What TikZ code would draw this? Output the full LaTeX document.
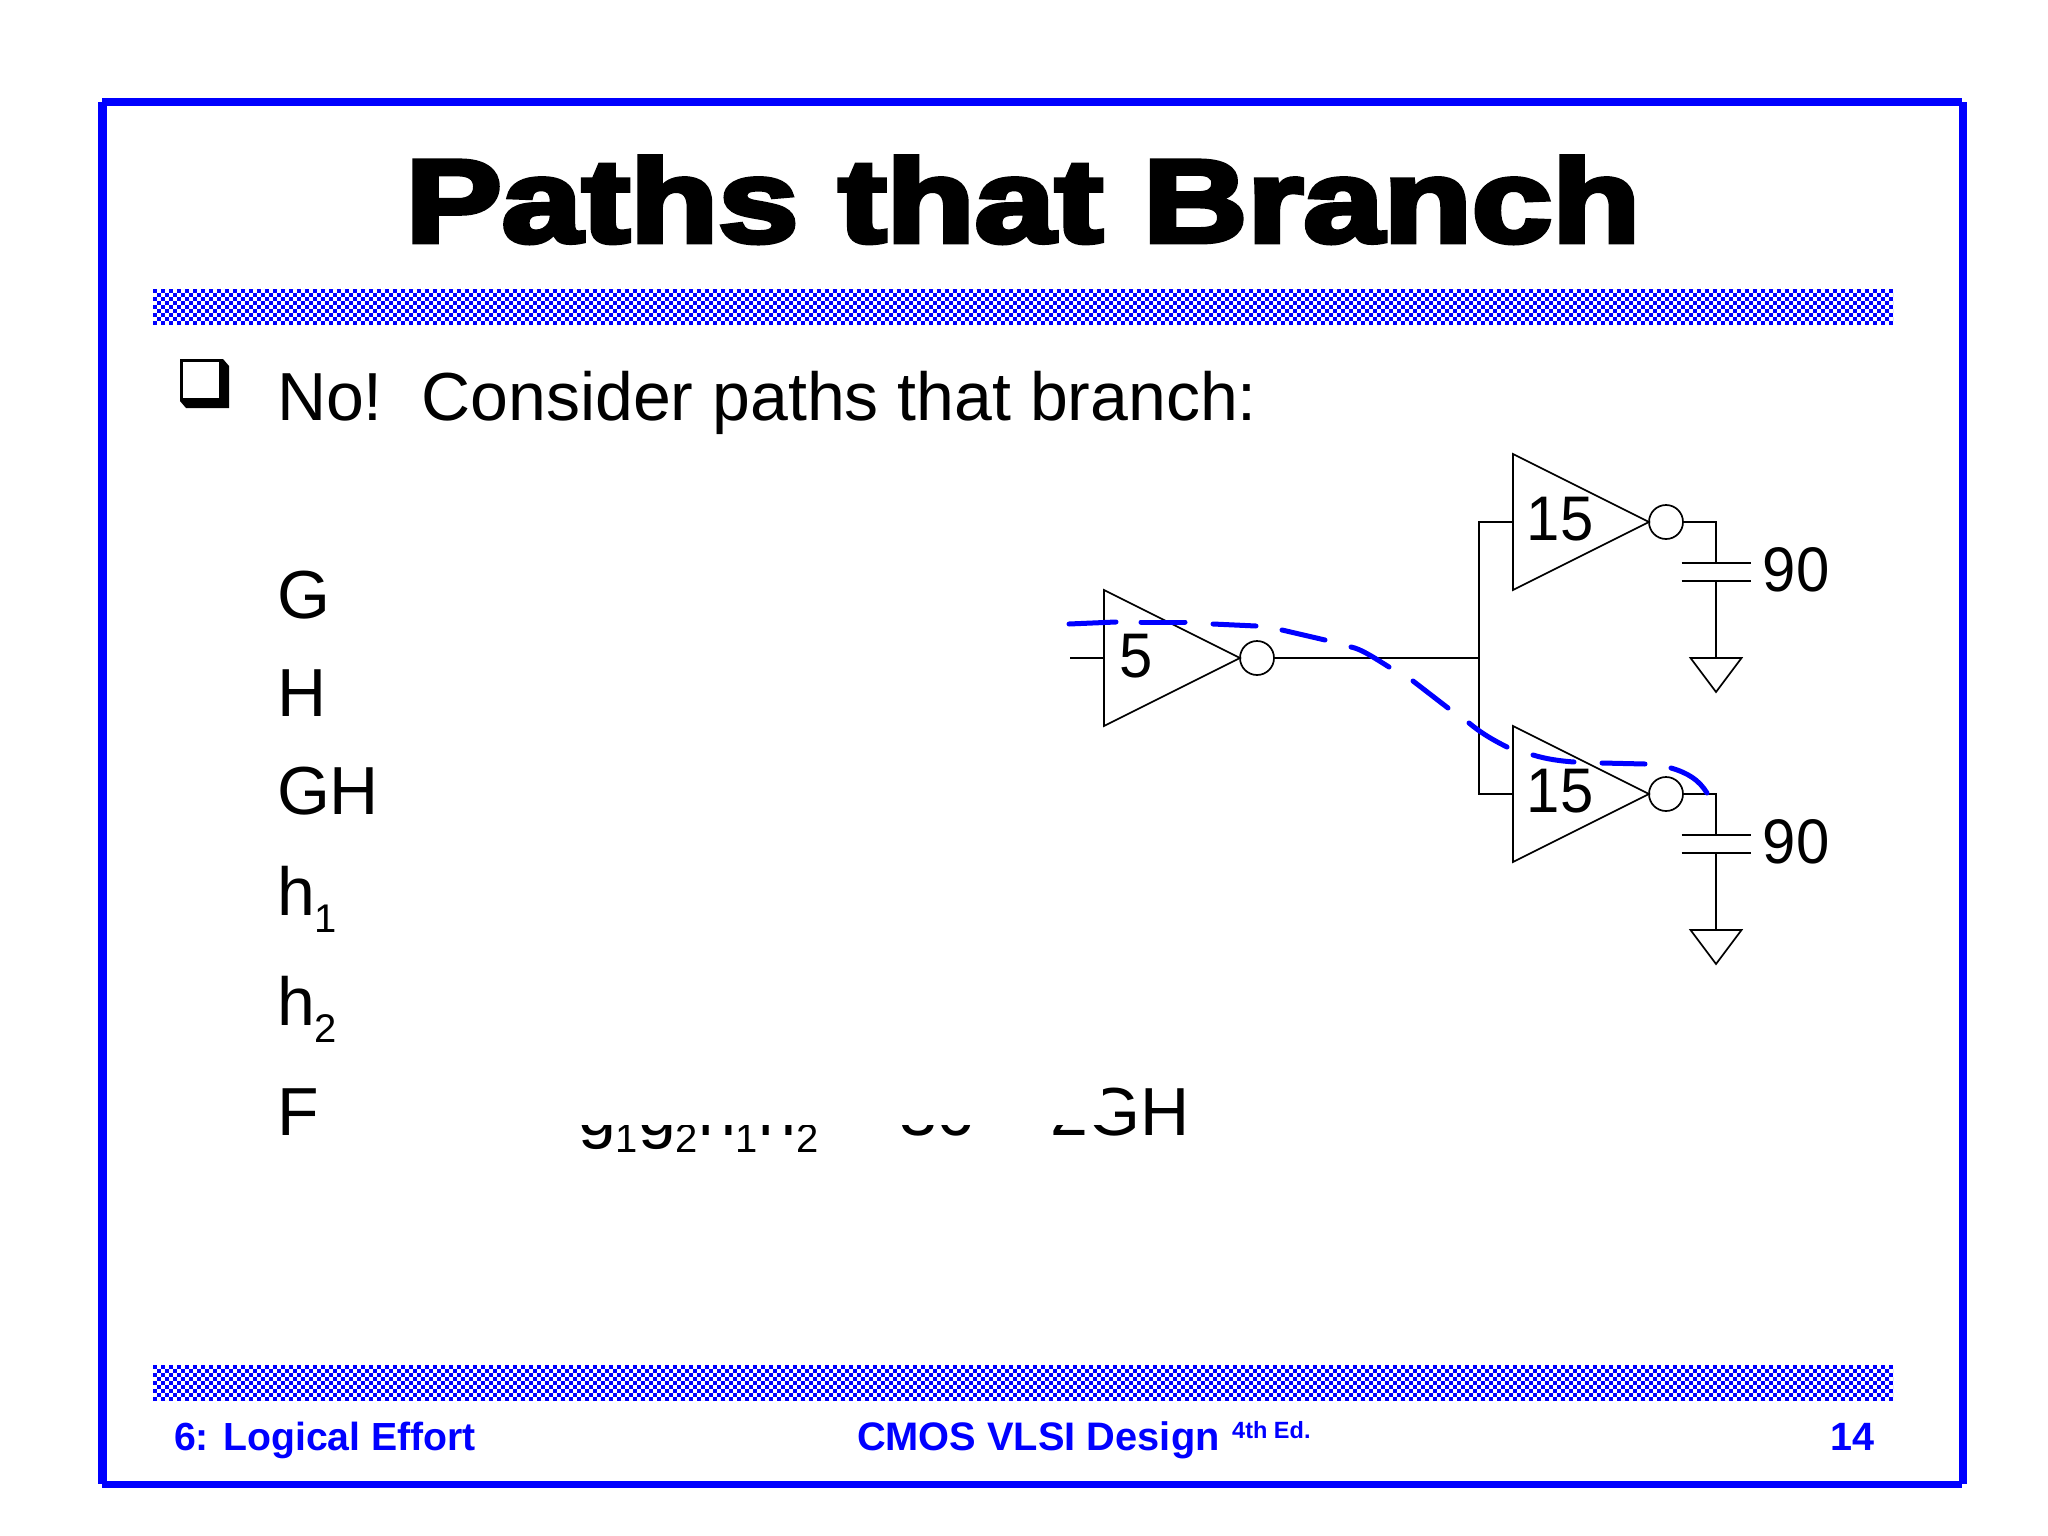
\documentclass[tikz,border=0pt]{standalone}
\usepackage{fontspec}
\setmainfont{Liberation Sans}
\newfontfamily\blackfont[FakeBold=4]{Liberation Sans Bold}
\definecolor{slideblue}{RGB}{0,0,255}
\newcommand{\fsz}[1]{\fontsize{#1}{#1}\selectfont}
\newcommand{\sbs}[1]{\raisebox{-.25em}{\fsz{40}#1}}
\newcommand{\narrow}[1]{\scalebox{.95}[1]{#1}}
\tikzset{
  txt/.style={anchor=base west,inner sep=0pt,outer sep=0pt,font=\fsz{68}},
  foot/.style={inner sep=0pt,outer sep=0pt,text=slideblue,font=\fsz{39.5}\bfseries},
  wire/.style={draw=black,line width=1.7pt,line join=miter},
  bubble/.style={circle,draw=black,line width=1.7pt,minimum size=34pt,inner sep=0pt,outer sep=0pt},
  val/.style={inner sep=0pt,outer sep=0pt,font=\fsz{63}},
  hand/.style={draw=slideblue,line width=5pt,line cap=round,line join=round},
  edge rect/.style={fill=slideblue,draw=none}
}
\newcommand{\checkerbar}[1]{%
  \foreach \r in {0,...,8}{%
    \pgfmathtruncatemacro\ph{4*mod(\r,2)}%
    \draw[slideblue,line width=4pt,dash pattern=on 4pt off 4pt,dash phase=\ph pt]
      (153,#1+2+4*\r) -- (1893,#1+2+4*\r);
  }}
\begin{document}
\begin{tikzpicture}[x=1pt,y=-1pt]
\useasboundingbox (0,0) rectangle (2048,1536);
\fill[white] (0,0) rectangle (2048,1536);
% frame
\fill[edge rect] (98,102) rectangle (107,1484);
\fill[edge rect] (1958.5,102) rectangle (1966.5,1484);
\fill[edge rect] (102,98) rectangle (1962,106);
\fill[edge rect] (102,1481) rectangle (1962,1488);
% bars
\checkerbar{289}
\checkerbar{1365}
% title
\node[inner sep=0pt,anchor=base,font=\fsz{118}\blackfont,xscale=1.223,transform shape] (title) at (1023,242) {Paths that Branch};
% bullet
\fill[black] (180,359) -- (223,359) -- (229,366) -- (229,408) -- (186,408) -- (180,401) -- cycle;
\fill[white] (183,362) rectangle (219,398);
% body text
\node[txt] (t0) at (277,420) {No!\hspace{.2em} Consider paths that branch:};
\node[txt] (tg) at (277,618) {G};
\node[txt] (th) at (277,716) {H};
\node[txt] (tgh) at (277,814) {GH};
\node[txt] (th1) at (277,915) {h\sbs{1}};
\node[txt] (th2) at (277,1025) {h\sbs{2}};
\node[txt] (tf) at (277,1135) {F};
\node[txt] (tf1) at (578,1135) {g\sbs{1}g\sbs{2}h\sbs{1}h\sbs{2}};
\node[txt] (tf2) at (899,1135) {36};
\node[txt] (tf3) at (1050,1135) {2GH};
\fill[white] (560,1050) rectangle (1103,1125);
\begin{scope}[shift={(-7,-3)}]
% circuit points
\coordinate (a1) at (1111,593); \coordinate (a2) at (1111,729); \coordinate (a3) at (1247,661); \coordinate (ain) at (1111,661); \coordinate (in) at (1077,661);
\coordinate (b1) at (1520,457); \coordinate (b2) at (1520,593); \coordinate (b3) at (1656,525); \coordinate (bin) at (1520,525);
\coordinate (c1) at (1520,729); \coordinate (c2) at (1520,865); \coordinate (c3) at (1656,797); \coordinate (cin) at (1520,797);
\coordinate (jt) at (1486,525); \coordinate (jm) at (1486,661); \coordinate (jb) at (1486,797);
\node[bubble] (ba) at (1264,661) {};
\node[bubble] (bb) at (1673,525) {};
\node[bubble] (bc) at (1673,797) {};
\draw[wire] (a1) -- (a3) -- (a2) -- cycle;
\draw[wire] (b1) -- (b3) -- (b2) -- cycle;
\draw[wire] (c1) -- (c3) -- (c2) -- cycle;
\draw[wire] (in) -- (ain);
\draw[wire] (ba) -- (jm);
\draw[wire] (bin) -- (jt) -- (jb) -- (cin);
% loads
\coordinate (bt) at (1723,525); \coordinate (bp1) at (1723,566); \coordinate (bp2) at (1723,584); \coordinate (bg) at (1723,661);
\coordinate (ct) at (1723,797); \coordinate (cp1) at (1723,838); \coordinate (cp2) at (1723,856); \coordinate (cg) at (1723,933);
\draw[wire] (bb) -- (bt) -- (bp1);
\draw[wire] (bp2) -- (bg);
\draw[wire] ([xshift=-34.5pt]bp1) -- ([xshift=35pt]bp1);
\draw[wire] ([xshift=-34.5pt]bp2) -- ([xshift=35pt]bp2);
\draw[wire] ([xshift=-25.5pt]bg) -- ([xshift=25.5pt]bg) -- ([yshift=-34pt]bg) -- cycle;
\draw[wire] (bc) -- (ct) -- (cp1);
\draw[wire] (cp2) -- (cg);
\draw[wire] ([xshift=-34.5pt]cp1) -- ([xshift=35pt]cp1);
\draw[wire] ([xshift=-34.5pt]cp2) -- ([xshift=35pt]cp2);
\draw[wire] ([xshift=-25.5pt]cg) -- ([xshift=25.5pt]cg) -- ([yshift=-34pt]cg) -- cycle;
% values
\node[val] (v5) at (1143.5,659) {\narrow{5}};
\node[val] (v15a) at (1567,522.5) {\narrow{15}};
\node[val] (v15b) at (1567,794) {\narrow{15}};
\node[val] (v90a) at (1803,572.5) {\narrow{90}};
\node[val] (v90b) at (1803,844.5) {\narrow{90}};
% hand-drawn path
\draw[hand] (1076,627) -- (1123,625);
\draw[hand] (1148,625) -- (1192,625);
\draw[hand] (1220,627) -- (1263,629);
\draw[hand] (1289,633) -- (1332,643);
\draw[hand] (1358,650) .. controls (1368,652) and (1380,660) .. (1396,670);
\draw[hand] (1420,684) -- (1455,711);
\draw[hand] (1476,726) .. controls (1488,736) and (1500,743) .. (1514,750);
\draw[hand] (1540,758) .. controls (1553,762) and (1567,764) .. (1581,765);
\draw[hand] (1609,766) -- (1652,767);
\draw[hand] (1678,771) .. controls (1695,776) and (1706,783) .. (1714,796);
\end{scope}
% footer
\node[foot,anchor=base west,font=\fsz{39.2}\bfseries] (f1) at (174,1450) {6: Logical Effort};
\node[foot,anchor=base west,font=\fsz{39.8}\bfseries] (f2) at (857,1450) {CMOS VLSI Design};
\node[inner sep=0pt,anchor=base west,text=slideblue,font=\fsz{23.5}\bfseries] (f3) at (1232,1438) {4th Ed.};
\node[foot,anchor=base east] (f4) at (1874,1450) {14};
\end{tikzpicture}
\end{document}
